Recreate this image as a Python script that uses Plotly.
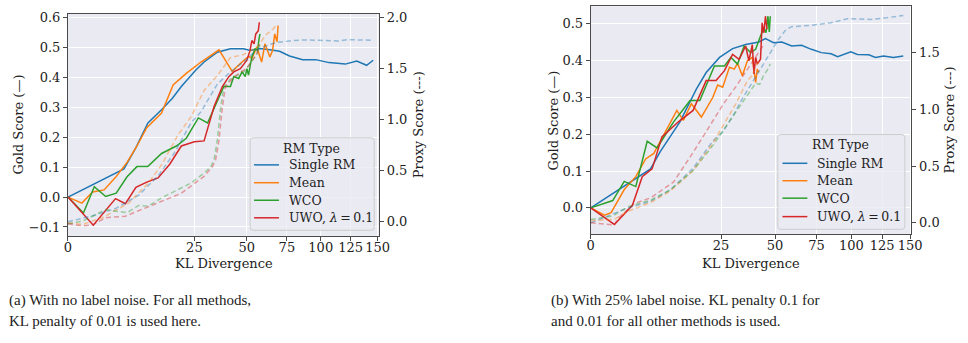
import numpy as np
import plotly.graph_objects as go

# ---------------- data: (a) no label noise ----------------
a_single_kl = [0, 4.9, 7.2, 10.0, 13.7, 17.0, 20.1, 25.6, 29.0, 34.9, 41.3, 48.2, 52.0, 57.7, 64.8, 70.1, 76.8, 86.2, 96.1, 106.6, 120.4, 130.5, 139.6, 145.8]
a_single_gold = [0, 0.094, 0.165, 0.248, 0.292, 0.33, 0.370, 0.425, 0.452, 0.485, 0.496, 0.496, 0.491, 0.497, 0.492, 0.488, 0.472, 0.460, 0.460, 0.450, 0.445, 0.455, 0.441, 0.458]
a_mean_kl = [0, 0.3, 0.95, 2.04, 3.54, 5.46, 7.44, 9.71, 13.7, 17.3, 21.9, 27.7, 35.7, 42.2, 46.5, 51.0, 53.0, 55.8, 58.7, 60.7, 63.8, 65.5, 66.9, 68.4, 69.1]
a_mean_gold = [0, -0.02, 0.017, 0.024, 0.066, 0.116, 0.171, 0.232, 0.281, 0.375, 0.414, 0.452, 0.493, 0.421, 0.447, 0.471, 0.465, 0.502, 0.452, 0.513, 0.469, 0.49, 0.546, 0.52, 0.574]
a_wco_kl = [0, 0.374, 1.08, 2.23, 3.64, 5.46, 7.44, 9.96, 13.7, 18.4, 21.9, 26.6, 30.5, 38.0, 41.3, 43.0, 45.6, 47.4, 49.2, 50.1, 51.0, 52.9, 54.8, 56.3, 57.1, 57.7]
a_wco_gold = [0, -0.053, 0.035, 0.002, 0.013, 0.068, 0.102, 0.102, 0.146, 0.171, 0.197, 0.265, 0.248, 0.370, 0.370, 0.403, 0.397, 0.419, 0.403, 0.430, 0.408, 0.469, 0.496, 0.491, 0.529, 0.546]
a_uwo_kl = [0, 1.0, 3.54, 5.16, 7.22, 9.71, 12.7, 16.2, 20.1, 25.0, 29.0, 33.4, 37.3, 40.5, 43.0, 46.5, 50.1, 51.9, 52.9, 54.2, 55.2, 56.7, 57.3]
a_uwo_gold = [0, -0.094, -0.005, -0.022, 0.033, 0.050, 0.064, 0.110, 0.171, 0.185, 0.188, 0.303, 0.370, 0.403, 0.419, 0.430, 0.458, 0.491, 0.524, 0.513, 0.546, 0.557, 0.585]

a_single_pkl = [0, 1.0, 3.54, 7.8, 12.7, 17.8, 23.7, 27.7, 34.9, 41.3, 49.2, 55.8, 63.8, 68.0, 76.8, 86.0, 98.7, 114.7, 123.0, 132.0, 145.8]
a_single_proxy = [0.0, 0.06, 0.13, 0.26, 0.45, 0.68, 0.97, 1.08, 1.35, 1.47, 1.58, 1.69, 1.74, 1.758, 1.774, 1.784, 1.78, 1.774, 1.787, 1.784, 1.78]
a_mean_pkl = [0, 0.34, 1.86, 5.8, 10.1, 13.7, 18.9, 23.7, 29.0, 34.9, 41.3, 48.2, 55.8, 61.7, 65.8, 68.4]
a_mean_proxy = [-0.01, -0.025, 0.04, 0.185, 0.38, 0.558, 0.85, 1.03, 1.288, 1.434, 1.61, 1.64, 1.71, 1.84, 1.89, 1.94]
a_wco_pkl = [0, 0.34, 2.23, 5.46, 7.8, 10.1, 13.7, 18.9, 23.7, 29.0, 31.9, 33.4, 34.9, 36.5, 38.0, 41.3, 48.2, 52, 55.8, 57.7]
a_wco_proxy = [-0.02, 0.007, 0.12, 0.088, 0.16, 0.153, 0.234, 0.315, 0.38, 0.477, 0.54, 0.607, 0.80, 1.125, 1.32, 1.40, 1.466, 1.55, 1.644, 1.74]
a_uwo_pkl = [0, 0.34, 0.95, 2.23, 5.16, 9.3, 13.7, 20.1, 23.7, 29.0, 32.6, 34.1, 35.7, 37.3, 38.8, 43.0, 50.1, 55.8, 57.3]
a_uwo_proxy = [-0.02, -0.04, -0.03, 0.04, 0.055, 0.136, 0.2, 0.28, 0.35, 0.445, 0.54, 0.607, 0.80, 1.125, 1.32, 1.42, 1.51, 1.644, 1.74]

# ---------------- data: (b) 25% label noise ----------------
b_single_kl = [0, 5.26, 7.1, 11.7, 16.4, 19.6, 24.4, 29.6, 35.3, 41.6, 44.9, 49.2, 53.7, 59.4, 65.4, 71.6, 78.2, 85.0, 89.7, 99.5, 104.6, 113.8, 119.2, 126.2, 134.8, 143.7]
b_single_gold = [0, 0.106, 0.153, 0.234, 0.323, 0.368, 0.409, 0.433, 0.444, 0.451, 0.46, 0.449, 0.451, 0.44, 0.442, 0.431, 0.422, 0.419, 0.411, 0.424, 0.417, 0.416, 0.409, 0.413, 0.409, 0.413]
b_mean_kl = [0, 0.28, 0.61, 1.65, 2.98, 4.43, 5.85, 7.81, 10.9, 12.6, 14.9, 18.0, 21.9, 23.7, 25.6, 28.3, 30.3, 31.7, 33.8, 36.1, 38.4, 40.0, 40.8, 41.6]
b_mean_gold = [0, -0.02, -0.013, 0.05, 0.085, 0.133, 0.148, 0.198, 0.265, 0.238, 0.283, 0.247, 0.30, 0.334, 0.328, 0.382, 0.377, 0.393, 0.359, 0.40, 0.409, 0.341, 0.377, 0.368]
b_wco_kl = [0, 0.71, 1.65, 2.98, 4.69, 6.47, 10.1, 14.5, 17.5, 22.5, 26.3, 28.9, 31.7, 34.6, 37.6, 40.0, 42.4, 44.1, 45.2, 46.2, 46.9, 47.4]
b_wco_gold = [0, 0.02, 0.072, 0.058, 0.181, 0.163, 0.234, 0.292, 0.292, 0.386, 0.386, 0.409, 0.391, 0.44, 0.422, 0.431, 0.467, 0.489, 0.476, 0.521, 0.478, 0.521]
b_uwo_kl = [0, 0.82, 2.55, 3.9, 5.54, 7.46, 11.3, 15.4, 19.6, 23.1, 26.3, 29.6, 32.4, 35.3, 36.8, 38.4, 39.2, 40.0, 40.8, 42.4, 43.2, 44.1, 44.9, 45.7]
b_uwo_gold = [0, -0.045, 0.007, 0.085, 0.106, 0.193, 0.234, 0.265, 0.346, 0.346, 0.373, 0.417, 0.404, 0.44, 0.40, 0.444, 0.364, 0.409, 0.391, 0.404, 0.503, 0.476, 0.521, 0.485]

b_single_pkl = [0, 2.0, 5.3, 9.3, 15.4, 21.9, 25.6, 30, 34, 38.4, 44, 48.3, 52, 56, 59.4, 71.6, 85, 96.9, 115, 129, 143.7]
b_single_proxy = [0, 0.13, 0.19, 0.29, 0.48, 0.72, 0.80, 0.95, 1.1, 1.24, 1.40, 1.52, 1.62, 1.70, 1.728, 1.74, 1.763, 1.798, 1.792, 1.807, 1.827]
b_mean_pkl = [0, 0.8, 2.0, 5.3, 9.3, 15.4, 21.9, 26, 31, 36, 38.5, 40, 41.6]
b_mean_proxy = [0.02, 0.03, 0.1, 0.18, 0.28, 0.46, 0.7, 0.86, 1.05, 1.25, 1.3, 1.38, 1.42]
b_wco_pkl = [0, 0.7, 2.0, 5.3, 9.3, 15.4, 21.9, 26, 31, 36, 40, 42, 44, 46, 47.4]
b_wco_proxy = [0.03, 0.06, 0.14, 0.2, 0.29, 0.46, 0.68, 0.82, 0.98, 1.12, 1.23, 1.22, 1.3, 1.35, 1.40]
b_uwo_pkl = [0, 0.8, 1.1, 2.8, 5.3, 10.1, 15.4, 21.9, 26, 31, 36, 40, 44.1]
b_uwo_proxy = [0, -0.02, 0.04, 0.17, 0.22, 0.36, 0.62, 0.9, 1.05, 1.2, 1.35, 1.47, 1.57]

names = ["Single RM", "Mean", "WCO", "UWO, <i>λ</i>\u2009=\u20090.1"]
legend_title = "RM Type"
colors = ["#1f77b4", "#ff7f0e", "#2ca02c", "#d62728"]
dash_colors = ["rgba(31,119,180,0.42)", "rgba(255,127,14,0.42)", "rgba(44,160,44,0.42)", "rgba(214,39,40,0.42)"]
kl_ticks = [0, 25, 50, 75, 100, 125, 150]
left_ticks_a = [-0.1, 0.0, 0.1, 0.2, 0.3, 0.4, 0.5, 0.6]
right_ticks_a = [0.0, 0.5, 1.0, 1.5, 2.0]
left_ticks_b = [0.0, 0.1, 0.2, 0.3, 0.4, 0.5]
right_ticks_b = [0.0, 0.5, 1.0, 1.5]

gold_a = [(a_single_kl, a_single_gold), (a_mean_kl, a_mean_gold), (a_wco_kl, a_wco_gold), (a_uwo_kl, a_uwo_gold)]
proxy_a = [(a_single_pkl, a_single_proxy), (a_mean_pkl, a_mean_proxy), (a_wco_pkl, a_wco_proxy), (a_uwo_pkl, a_uwo_proxy)]
gold_b = [(b_single_kl, b_single_gold), (b_mean_kl, b_mean_gold), (b_wco_kl, b_wco_gold), (b_uwo_kl, b_uwo_gold)]
proxy_b = [(b_single_pkl, b_single_proxy), (b_mean_pkl, b_mean_proxy), (b_wco_pkl, b_wco_proxy), (b_uwo_pkl, b_uwo_proxy)]

W, H = 968, 343
SERIF = "DejaVu Serif"
TXT = "#222222"

fig = go.Figure()

def add_panel(gold, proxy, xa, ya, ya2):
    for i, (kl, g) in enumerate(gold):
        fig.add_trace(go.Scatter(x=np.sqrt(kl), y=g, mode="lines", name=names[i],
                                 line=dict(color=colors[i], width=1.5),
                                 xaxis=xa, yaxis=ya, showlegend=False))
    for i, (kl, p) in enumerate(proxy):
        fig.add_trace(go.Scatter(x=np.sqrt(kl), y=p, mode="lines", name=names[i],
                                 line=dict(color=dash_colors[i], width=1.5, dash="5px,3px"),
                                 xaxis=xa, yaxis=ya2, showlegend=False))

add_panel(gold_a, proxy_a, "x", "y", "y2")
add_panel(gold_b, proxy_b, "x2", "y3", "y4")

def px_x(v):
    return v / W

def px_y(v):
    return (H - v) / H

# panel geometry (pixels)
A = dict(x0=65, x1=381, y0=10.7, y1=235)
B = dict(x0=596, x1=921.7, y0=3.3, y1=233.3)

tickfont = dict(family=SERIF, size=13, color=TXT)
spine = "#4a4a4a"

def xaxis_cfg(P, xmax, anchor):
    return dict(domain=[px_x(P["x0"]), px_x(P["x1"])], range=[0, xmax], anchor=anchor,
                tickvals=list(np.sqrt(kl_ticks)), ticktext=[str(t) for t in kl_ticks],
                showgrid=True, gridcolor="white", gridwidth=1, zeroline=False,
                showline=True, linecolor=spine, linewidth=1, mirror=True,
                ticks="outside", ticklen=4, tickcolor=spine, tickfont=tickfont,
                ticklabelstandoff=-5)

def yaxis_cfg(P, rng, ticks, anchor):
    return dict(domain=[px_y(P["y1"]), px_y(P["y0"])], range=rng, anchor=anchor,
                tickvals=ticks, ticktext=[("−" if t < 0 else "") + f"{abs(t):.1f}" for t in ticks],
                showgrid=True, gridcolor="white", gridwidth=1, zeroline=False,
                showline=True, linecolor=spine, linewidth=1, mirror=True,
                ticks="outside", ticklen=4, tickcolor=spine, tickfont=tickfont)

def yaxis2_cfg(rng, ticks, overlay, anchor):
    return dict(overlaying=overlay, side="right", range=rng, anchor=anchor,
                tickvals=ticks, ticktext=[f"{t:.1f}" for t in ticks],
                showgrid=False, zeroline=False, showline=False,
                ticks="outside", ticklen=4, tickcolor=spine, tickfont=tickfont)

fig.update_layout(
    width=W, height=H, margin=dict(l=0, r=0, t=0, b=0),
    paper_bgcolor="white", plot_bgcolor="#eaeaf2",
    font=dict(family=SERIF, size=13, color=TXT),
    xaxis=xaxis_cfg(A, np.sqrt(151.5), "y"),
    yaxis=yaxis_cfg(A, [-0.130, 0.614], left_ticks_a, "x"),
    yaxis2=yaxis2_cfg([-0.139, 2.042], right_ticks_a, "y", "x"),
    xaxis2=xaxis_cfg(B, np.sqrt(151.3), "y3"),
    yaxis3=yaxis_cfg(B, [-0.0716, 0.548], left_ticks_b, "x2"),
    yaxis4=yaxis2_cfg([-0.101, 1.908], right_ticks_b, "y3", "x2"),
    showlegend=False,
)

ann = []
shapes = []

def label(text, x, y, angle=0, size=13, family=SERIF, xanchor="center"):
    ann.append(dict(text=text, x=px_x(x), y=px_y(y), xref="paper", yref="paper",
                    showarrow=False, textangle=angle, xanchor=xanchor, yanchor="middle",
                    font=dict(family=family, size=size, color=TXT)))

def rounded_box(x0, y0, x1, y1, r=3):
    X0, X1 = px_x(x0), px_x(x1)
    Yt, Yb = px_y(y0), px_y(y1)
    rx, ry = r / W, r / H
    path = (f"M {X0+rx},{Yt} L {X1-rx},{Yt} Q {X1},{Yt} {X1},{Yt-ry} "
            f"L {X1},{Yb+ry} Q {X1},{Yb} {X1-rx},{Yb} "
            f"L {X0+rx},{Yb} Q {X0},{Yb} {X0},{Yb+ry} "
            f"L {X0},{Yt-ry} Q {X0},{Yt} {X0+rx},{Yt} Z")
    shapes.append(dict(type="path", path=path, xref="paper", yref="paper", layer="above",
                       fillcolor="rgba(234,234,242,0.8)", line=dict(color="#cccccc", width=1)))

def legend(box, title_xy, line_x, text_x, rows_y):
    rounded_box(*box)
    label(legend_title, title_xy[0], title_xy[1], size=12.5)
    for i, yy in enumerate(rows_y):
        shapes.append(dict(type="line", xref="paper", yref="paper", layer="above",
                           x0=px_x(line_x[0]), x1=px_x(line_x[1]), y0=px_y(yy), y1=px_y(yy),
                           line=dict(color=colors[i], width=1.5)))
        label(names[i], text_x, yy, size=12.5, xanchor="left")

legend((250, 136, 376, 229.3), (312.5, 146.7), (254, 279.3), 287, [163.3, 181.3, 199, 216.7])
legend((786, 132.7, 915, 228.3), (850, 142.7), (790.7, 816), 824, [161.7, 179.3, 196.9, 215.5])

label("Gold Score (—)", 15, (A["y0"] + A["y1"]) / 2, -90)
label("Proxy Score (---)", 421, (A["y0"] + A["y1"]) / 2, -90)
label("KL Divergence", (A["x0"] + A["x1"]) / 2, 263)
label("Gold Score (—)", 558, (B["y0"] + B["y1"]) / 2, -90)
label("Proxy Score (---)", 960, (B["y0"] + B["y1"]) / 2, -90)
label("KL Divergence", (B["x0"] + B["x1"]) / 2, 263)

CAP = "Liberation Serif"
label("(a) With no label noise. For all methods,", 3, 300, size=15, family=CAP, xanchor="left")
label("KL penalty of 0.01 is used here.", 3, 321, size=15, family=CAP, xanchor="left")
label("(b) With 25% label noise. KL penalty 0.1 for", 554, 300, size=15, family=CAP, xanchor="left")
label("and 0.01 for all other methods is used.", 554, 321, size=15, family=CAP, xanchor="left")

fig.update_layout(annotations=ann, shapes=shapes)
fig.write_html("out.html")
